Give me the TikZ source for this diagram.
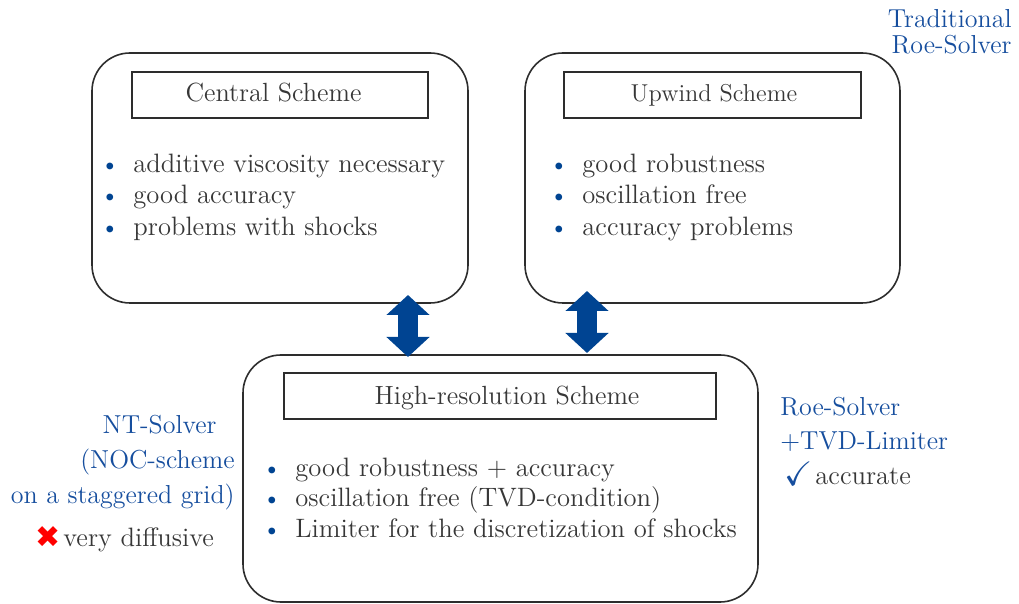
\documentclass[tikz,border=0pt]{standalone}
\usepackage{fontspec}
\usepackage{amssymb}
\usetikzlibrary{arrows.meta}
\newfontfamily\djv{DejaVu Sans}
\definecolor{txt}{RGB}{55,55,55}
\definecolor{lbl}{RGB}{22,78,158}
\definecolor{arr}{RGB}{0,68,146}
\definecolor{bdr}{RGB}{45,45,45}
\begin{document}
\begin{tikzpicture}[x=0.5pt,y=-0.5pt,
 roundbox/.style={draw=bdr, line width=0.8pt, rounded corners=19pt, inner sep=0pt},
 titlebox/.style={draw=bdr, line width=0.8pt, inner sep=0pt},
 ttl/.style={font=\fontsize{13.15}{15}\selectfont, text=txt, inner sep=0pt, anchor=base},
 item/.style={font=\fontsize{13.3}{15}\selectfont, text=txt, inner sep=0pt, anchor=base west},
 bul/.style={text=arr, inner sep=0pt, anchor=base, font=\fontsize{12.5}{15}\selectfont},
 side/.style={font=\fontsize{13}{15}\selectfont, text=lbl, inner sep=0pt},
 note/.style={font=\fontsize{13.3}{15}\selectfont, text=txt, inner sep=0pt, anchor=base west},
 dbl/.style={draw=arr, line width=10pt, {Triangle[width=21pt,length=10pt]}-{Triangle[width=21pt,length=10pt]}}
]
\useasboundingbox (0,0) rectangle (1019,604);

% outer boxes
\node[roundbox, minimum width=188pt, minimum height=125pt] (central) at (280,178) {};
\node[roundbox, minimum width=187.5pt, minimum height=125pt] (upwind) at (712.5,178) {};
\node[roundbox, minimum width=257.5pt, minimum height=123.5pt] (hires) at (500.5,478.5) {};

% title boxes
\node[titlebox, minimum width=148pt, minimum height=23pt] (ct) at (280,95) {};
\node[titlebox, minimum width=148.5pt, minimum height=23pt] (ut) at (712.5,95) {};
\node[titlebox, minimum width=216pt, minimum height=23pt] (ht) at (500,396) {};
\node[ttl] (ctx) at (273.5,102) {Central Scheme};
\node[ttl, font=\fontsize{12.2}{14}\selectfont] (utx) at (714,101.7) {Upwind Scheme};
\node[ttl] (htx) at (507,405) {High-resolution Scheme};

% central list
\node[bul] (cb1) at (110,173) {\textbullet};
\node[bul] (cb2) at (110,204) {\textbullet};
\node[bul] (cb3) at (110,235.5) {\textbullet};
\node[item] (ci1) at (133,173) {additive viscosity necessary};
\node[item] (ci2) at (133,204) {good accuracy};
\node[item] (ci3) at (133,235.5) {problems with shocks};

% upwind list
\node[bul] (ub1) at (559,173) {\textbullet};
\node[bul] (ub2) at (559,204) {\textbullet};
\node[bul] (ub3) at (559,235.5) {\textbullet};
\node[item] (ui1) at (582,173) {good robustness};
\node[item] (ui2) at (582,204) {oscillation free};
\node[item] (ui3) at (582,235.5) {accuracy problems};

% high-resolution list
\node[bul] (hb1) at (272,476.7) {\textbullet};
\node[bul] (hb2) at (272,507) {\textbullet};
\node[bul] (hb3) at (272,538) {\textbullet};
\node[item] (hi1) at (295,476.7) {good robustness + accuracy};
\node[item] (hi2) at (295,507) {oscillation free (TVD-condition)};
\node[item] (hi3) at (295,538) {Limiter for the discretization of shocks};

% side labels
\node[side, anchor=base east] (tr1) at (1012,27.3) {Traditional};
\node[side, anchor=base east] (tr2) at (1012,53.3) {Roe-Solver};

\node[side, anchor=base east] (nt1) at (217,433.3) {NT-Solver};
\node[side, anchor=base east] (nt2) at (235,468.3) {(NOC-scheme};
\node[side, anchor=base east] (nt3) at (235,504) {on a staggered grid)};
\node[note, text=red, font=\fontsize{15}{18}\djv] (cross) at (35,547.5) {✖};
\node[note] (diff) at (63,546.7) {very diffusive};

\node[side, anchor=base west] (rs1) at (780,416) {Roe-Solver};
\node[side, anchor=base west] (rs2) at (780,450) {+TVD-Limiter};
\node[note, text=lbl, font=\fontsize{17}{18}\selectfont] (chk) at (784,486) {$\checkmark$};
\node[note] (acc) at (815,485) {accurate};

% double arrows
\coordinate (la1) at (408,295);
\coordinate (la2) at (408,357);
\coordinate (ra1) at (587,291);
\coordinate (ra2) at (587,353);
\draw[dbl] (la1) -- (la2);
\draw[dbl] (ra1) -- (ra2);
\end{tikzpicture}
\end{document}
